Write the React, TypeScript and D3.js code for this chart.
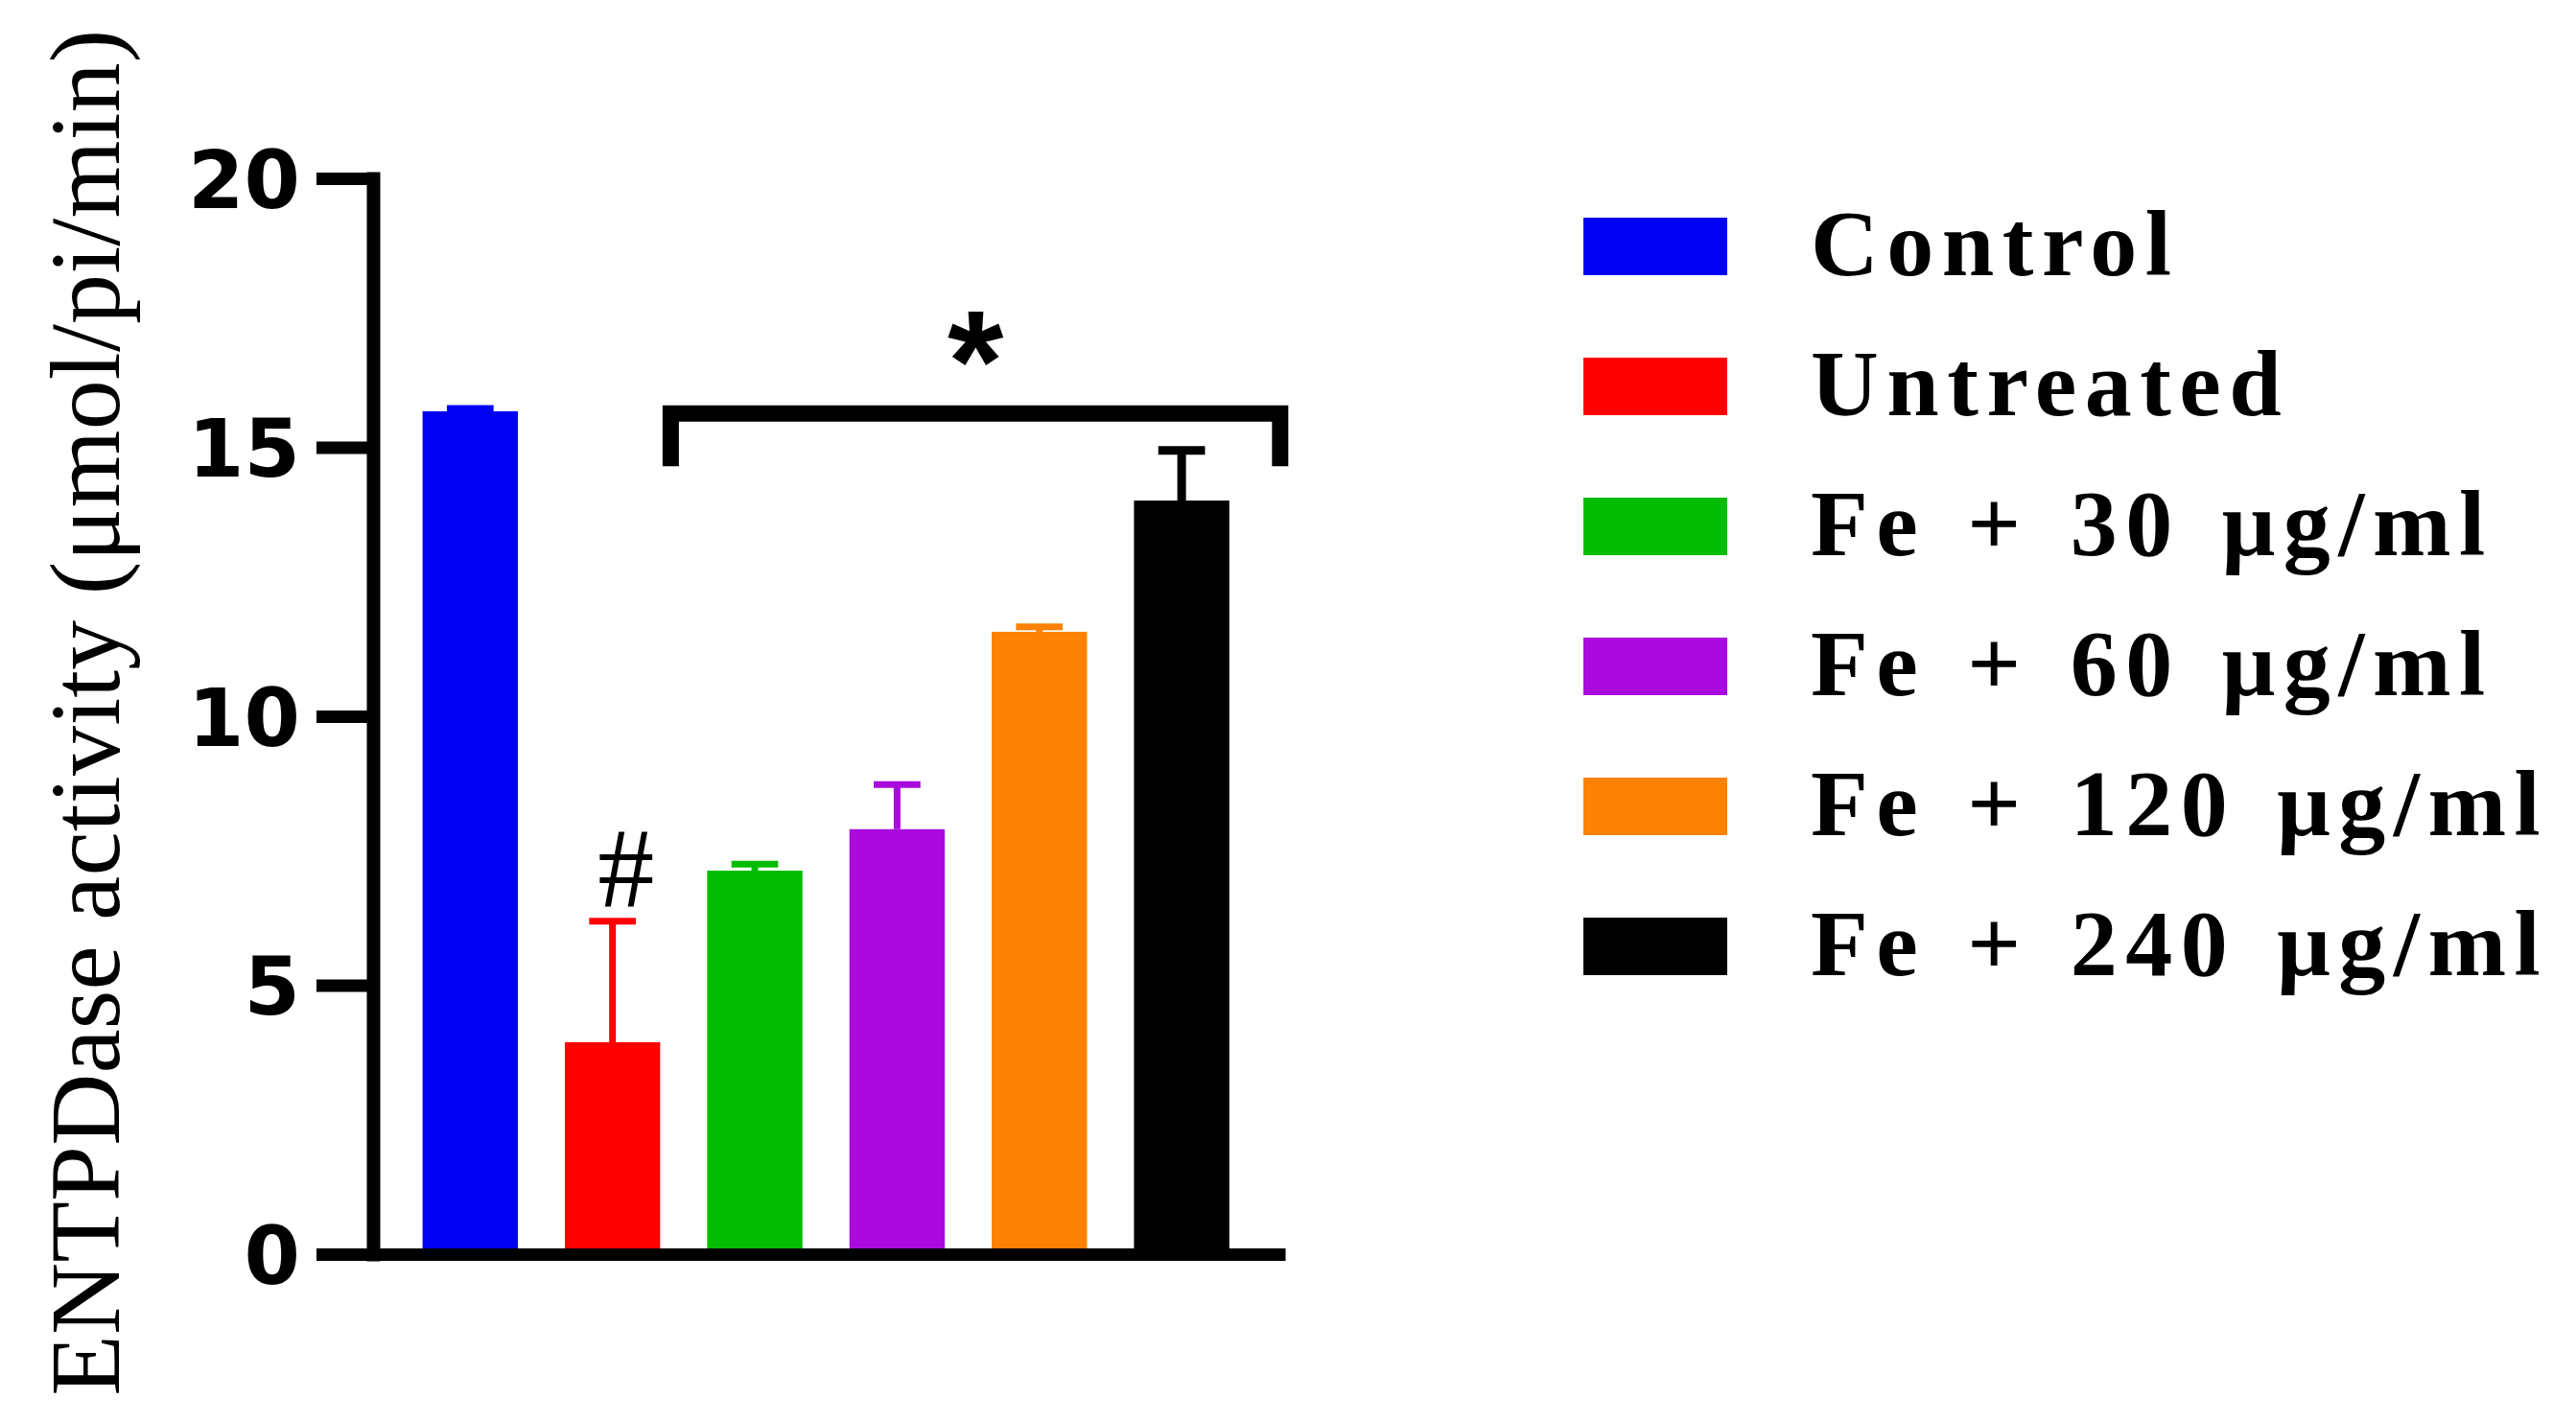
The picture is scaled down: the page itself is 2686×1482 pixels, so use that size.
import React, { useEffect, useRef } from "react";
import * as d3 from "d3";

// values
const groups = ["Control", "Untreated", "Fe + 30 μg/ml", "Fe + 60 μg/ml", "Fe + 120 μg/ml", "Fe + 240 μg/ml"];
const means = [15.67, 3.94, 7.13, 7.9, 11.57, 14.01];
const sem = [0.05, 2.25, 0.12, 0.83, 0.09, 0.93];
const colors = ["#0000F5", "#FF0000", "#05BC05", "#AA0ADD", "#FD8103", "#000000"];
const yTicks = [0, 5, 10, 15, 20];
const yLabel = "ENTPDase activity (μmol/pi/min)";

// significance marks
const hashGroup = "Untreated";
const bracketFrom = "Untreated";
const bracketTo = "Fe + 240 μg/ml";
const bracketTop = 15.63;
const bracketLegEnd = 14.65;

const W = 2686;
const H = 1482;

export default function App() {
  const ref = useRef<SVGSVGElement | null>(null);

  useEffect(() => {
    const svg = d3.select(ref.current);
    svg.selectAll("*").remove();

    const data = groups.map((g, i) => ({ group: g, mean: means[i], err: sem[i], color: colors[i] }));

    const x = d3.scaleBand<string>().domain(groups).range([389, 1340])
      .paddingInner(0.33).paddingOuter(0.37).align(0.47);
    const y = d3.scaleLinear().domain([0, 20]).range([1308, 186]);

    // bars
    svg.append("g").selectAll("rect").data(data).join("rect")
      .attr("x", d => x(d.group)!)
      .attr("y", d => y(d.mean))
      .attr("width", x.bandwidth())
      .attr("height", d => y(0) - y(d.mean))
      .attr("fill", d => d.color);

    // error bars (upper only)
    const capW = x.bandwidth() * 0.49;
    const eb = svg.append("g").selectAll("g").data(data).join("g")
      .attr("stroke", d => d.color)
      .attr("stroke-width", d => (d.color === "#000000" ? 9 : 7));
    eb.append("line")
      .attr("x1", d => x(d.group)! + x.bandwidth() / 2)
      .attr("x2", d => x(d.group)! + x.bandwidth() / 2)
      .attr("y1", d => y(d.mean))
      .attr("y2", d => y(d.mean + d.err));
    eb.append("line")
      .attr("x1", d => x(d.group)! + x.bandwidth() / 2 - capW / 2)
      .attr("x2", d => x(d.group)! + x.bandwidth() / 2 + capW / 2)
      .attr("y1", d => y(d.mean + d.err))
      .attr("y2", d => y(d.mean + d.err));

    // y axis
    const yAxis = d3.axisLeft(y).tickValues(yTicks).tickSize(59).tickSizeOuter(0).tickPadding(17);
    const gy = svg.append("g").attr("transform", "translate(389,0)").call(yAxis);
    gy.select(".domain").attr("stroke", "#000").attr("stroke-width", 14).attr("stroke-linecap", "square");
    gy.selectAll(".tick line").attr("stroke", "#000").attr("stroke-width", 13);
    gy.selectAll(".tick text")
      .attr("font-family", "'DejaVu Sans', sans-serif")
      .attr("font-weight", "bold")
      .attr("font-size", 84)
      .attr("fill", "#000")
      .attr("dy", "0.36em");

    // x axis (line only)
    const xAxis = d3.axisBottom(x).tickSize(0).tickSizeOuter(0).tickFormat(() => "");
    const gx = svg.append("g").attr("transform", `translate(0,${y(0)})`).call(xAxis);
    gx.select(".domain").attr("stroke", "#000").attr("stroke-width", 13);

    // y label
    svg.append("text")
      .attr("transform", `translate(124,${(y(20) + y(0)) / 2 - 4}) rotate(-90)`)
      .attr("text-anchor", "middle")
      .attr("font-family", "'Liberation Serif', 'Times New Roman', serif")
      .attr("font-size", 104)
      .attr("letter-spacing", 0.2)
      .attr("fill", "#000")
      .text(yLabel);

    // "#" above untreated
    svg.append("text")
      .attr("x", x(hashGroup)! + x.bandwidth() / 2 + 14)
      .attr("y", y(means[groups.indexOf(hashGroup)] + sem[groups.indexOf(hashGroup)]) - 16)
      .attr("text-anchor", "middle")
      .attr("font-family", "'Liberation Serif', 'Times New Roman', serif")
      .attr("font-size", 118)
      .attr("fill", "#000")
      .text("#");

    // bracket + star
    const bx0 = x(bracketFrom)! + x.bandwidth() + 11;
    const bx1 = x(bracketTo)! + x.bandwidth() + 53;
    svg.append("path")
      .attr("d", `M${bx0},${y(bracketLegEnd)} V${y(bracketTop)} H${bx1} V${y(bracketLegEnd)}`)
      .attr("fill", "none")
      .attr("stroke", "#000")
      .attr("stroke-width", 17);
    svg.append("text")
      .attr("x", (bx0 + bx1) / 2)
      .attr("y", y(bracketTop) - 2)
      .attr("text-anchor", "middle")
      .attr("font-family", "'Liberation Sans', Arial, sans-serif")
      .attr("font-weight", "bold")
      .attr("font-size", 150)
      .attr("fill", "#000")
      .text("*");

    // legend
    const leg = svg.append("g").selectAll("g").data(data).join("g")
      .attr("transform", (d, i) => `translate(1651,${227 + i * 146})`);
    leg.append("rect").attr("width", 150).attr("height", 60).attr("fill", d => d.color);
    leg.append("text")
      .attr("x", 237)
      .attr("y", 60)
      .attr("font-family", "'Liberation Serif', 'Times New Roman', serif")
      .attr("font-weight", "bold")
      .attr("font-size", 98)
      .attr("letter-spacing", 8.5)
      .attr("word-spacing", 10)
      .attr("fill", "#000")
      .text(d => d.group);
  }, []);

  return (
    <svg ref={ref} width={W} height={H} style={{ position: "absolute", left: 0, top: 0, background: "#fff" }} />
  );
}
